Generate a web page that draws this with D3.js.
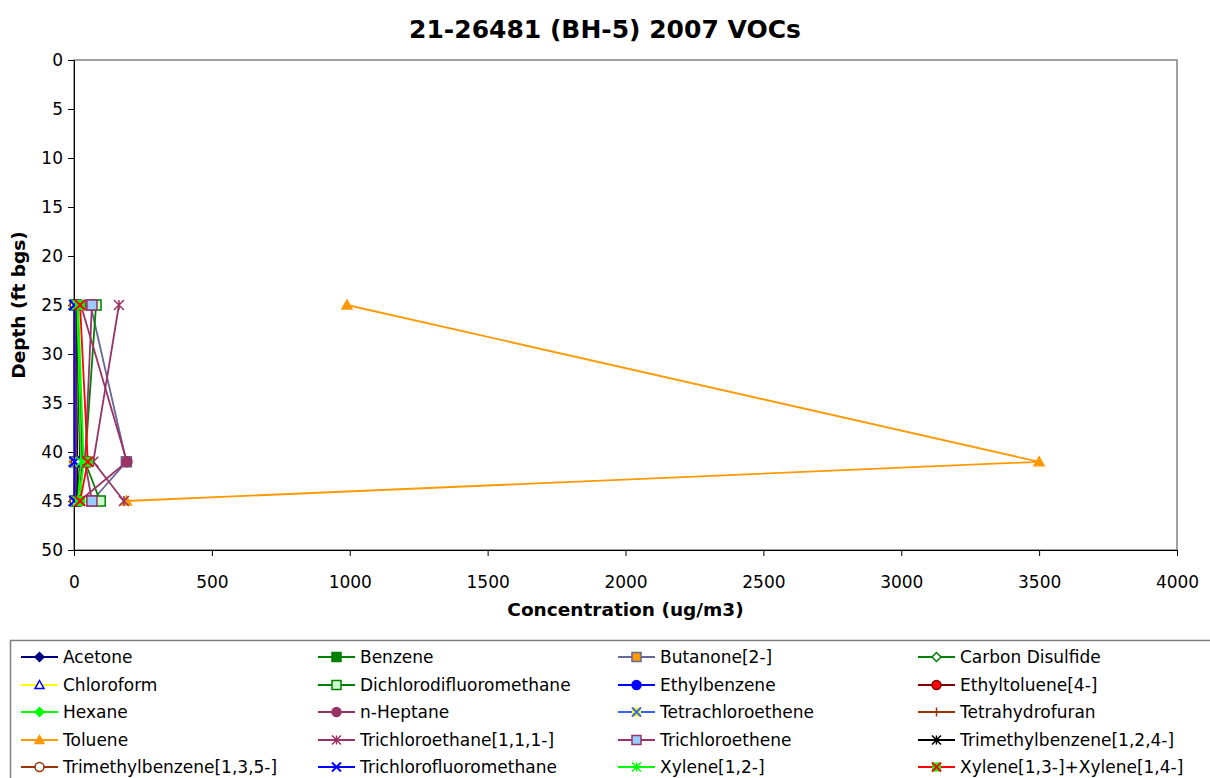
<!DOCTYPE html>
<html>
<head>
<script src="https://cdnjs.cloudflare.com/ajax/libs/d3/7.8.5/d3.min.js"></script>
<style>
body { margin: 0; background: #fff; }
svg text { font-family: 'DejaVu Sans', Verdana, sans-serif; fill: #000; }
</style>
</head>
<body>
<svg id="chart"></svg>
<script>
// sample depths (ft bgs)
const depths = [25, 41, 45];

const seriesNames = [
  'Acetone', 'Benzene', 'Butanone[2-]', 'Carbon Disulfide',
  'Chloroform', 'Dichlorodifluoromethane', 'Ethylbenzene', 'Ethyltoluene[4-]',
  'Hexane', 'n-Heptane', 'Tetrachloroethene', 'Tetrahydrofuran',
  'Toluene', 'Trichloroethane[1,1,1-]', 'Trichloroethene', 'Trimethylbenzene[1,2,4-]',
  'Trimethylbenzene[1,3,5-]', 'Trichlorofluoromethane', 'Xylene[1,2-]', 'Xylene[1,3-]+Xylene[1,4-]'
];

// concentrations (ug/m3) at 25, 41, 45 ft
const acetone = [6, 12, 10];
const benzene = [4, 3, 5];
const butanone = [60, 190, 65];
const carbonDisulfide = [3, 2, 3];
const chloroform = [0.5, 0.5, 0.5];
const dichlorodifluoromethane = [80, 40, 95];
const ethylbenzene = [3, 2, 3];
const ethyltoluene = [10, 30, 12];
const hexane = [15, 35, 20];
const nHeptane = [25, 192, 20];
const tetrachloroethene = [1, 1, 1];
const tetrahydrofuran = [2, 3, 2];
const toluene = [990, 3500, 190];
const trichloroethane = [163, 70, 181];
const trichloroethene = [65, 40, 65];
const tmb124 = [10, 22, 12];
const tmb135 = [4, 8, 4];
const trichlorofluoromethane = [1, 2, 1];
const xylene12 = [12, 25, 14];
const xylene1314 = [22, 50, 22];

const seriesValues = [
  acetone, benzene, butanone, carbonDisulfide,
  chloroform, dichlorodifluoromethane, ethylbenzene, ethyltoluene,
  hexane, nHeptane, tetrachloroethene, tetrahydrofuran,
  toluene, trichloroethane, trichloroethene, tmb124,
  tmb135, trichlorofluoromethane, xylene12, xylene1314
];

const xTicks = [0, 500, 1000, 1500, 2000, 2500, 3000, 3500, 4000];
const yTicks = [0, 5, 10, 15, 20, 25, 30, 35, 40, 45, 50];

// line colour, marker shape, marker fill, marker stroke
const styles = [
  { line: '#000080', shape: 'diamond', fill: '#000080', stroke: '#000080' },
  { line: '#008000', shape: 'square', fill: '#008000', stroke: '#008000' },
  { line: '#666699', shape: 'square', fill: '#ff9900', stroke: '#666699' },
  { line: '#008000', shape: 'diamond', fill: '#ffffff', stroke: '#008000' },
  { line: '#ffff00', shape: 'triangle', fill: '#ffffff', stroke: '#0000ff' },
  { line: '#008000', shape: 'square', fill: '#ccffcc', stroke: '#008000' },
  { line: '#0000ff', shape: 'circle', fill: '#0000ff', stroke: '#0000ff' },
  { line: '#800000', shape: 'circle', fill: '#ff0000', stroke: '#800000' },
  { line: '#00ff00', shape: 'diamond', fill: '#00ff00', stroke: '#00ff00' },
  { line: '#993366', shape: 'circle', fill: '#993366', stroke: '#993366' },
  { line: '#3366ff', shape: 'xsquare', fill: '#ffff00', stroke: '#3366ff' },
  { line: '#993300', shape: 'plus', fill: 'none', stroke: '#993300' },
  { line: '#ff9900', shape: 'triangle', fill: '#ff9900', stroke: '#ff9900' },
  { line: '#993366', shape: 'asterisk', fill: 'none', stroke: '#993366' },
  { line: '#993366', shape: 'square', fill: '#99ccff', stroke: '#993366' },
  { line: '#000000', shape: 'asterisk', fill: 'none', stroke: '#000000' },
  { line: '#993300', shape: 'circle', fill: '#ffffff', stroke: '#993300' },
  { line: '#0000ff', shape: 'x', fill: 'none', stroke: '#0000ff' },
  { line: '#00ff00', shape: 'asterisk', fill: 'none', stroke: '#00ff00' },
  { line: '#ff0000', shape: 'xsquare', fill: '#00ff00', stroke: '#ff0000' }
];

const width = 1210, height = 778;
const plot = { left: 74, top: 60, right: 1177, bottom: 550 };

const svg = d3.select('#chart').attr('width', width).attr('height', height);

const x = d3.scaleLinear().domain([0, 4000]).range([plot.left, plot.right]);
const y = d3.scaleLinear().domain([0, 50]).range([plot.top, plot.bottom]);

// plot area border (top/right grey)
svg.append('rect')
  .attr('x', plot.left).attr('y', plot.top)
  .attr('width', plot.right - plot.left).attr('height', plot.bottom - plot.top)
  .attr('fill', '#fff').attr('stroke', '#808080').attr('stroke-width', 1.5);

// axes
const yAxis = svg.append('g')
  .attr('transform', `translate(${plot.left},0)`)
  .call(d3.axisLeft(y).tickValues(yTicks).tickSize(6).tickSizeOuter(0).tickPadding(5));
const xAxis = svg.append('g')
  .attr('transform', `translate(0,${plot.bottom})`)
  .call(d3.axisBottom(x).tickValues(xTicks).tickFormat(d3.format('d'))
    .tickSize(6).tickSizeOuter(0).tickPadding(20));
[xAxis, yAxis].forEach(a => {
  a.select('.domain').attr('stroke', '#000').attr('stroke-width', 1);
  a.selectAll('.tick line').attr('stroke', '#000');
  a.selectAll('.tick text').style('font-size', '17px').style('font-family', "'DejaVu Sans', sans-serif");
});

// titles
svg.append('text')
  .attr('x', 605).attr('y', 38).attr('text-anchor', 'middle')
  .style('font-size', '25px').style('font-weight', 'bold')
  .text('21-26481 (BH-5) 2007 VOCs');
svg.append('text')
  .attr('x', (plot.left + plot.right) / 2).attr('y', 616).attr('text-anchor', 'middle')
  .style('font-size', '18.5px').style('font-weight', 'bold')
  .text('Concentration (ug/m3)');
svg.append('text')
  .attr('transform', `translate(25,${(plot.top + plot.bottom) / 2}) rotate(-90)`)
  .attr('text-anchor', 'middle')
  .style('font-size', '18.5px').style('font-weight', 'bold')
  .text('Depth (ft bgs)');

function drawMarker(g, st, cx, cy, r) {
  const s = st.shape;
  if (s === 'diamond') {
    g.append('path').attr('d', `M${cx},${cy - r}L${cx + r},${cy}L${cx},${cy + r}L${cx - r},${cy}Z`)
      .attr('fill', st.fill).attr('stroke', st.stroke).attr('stroke-width', 1.5);
  } else if (s === 'square' || s === 'xsquare') {
    g.append('rect').attr('x', cx - r).attr('y', cy - r).attr('width', 2 * r).attr('height', 2 * r)
      .attr('fill', st.fill).attr('stroke', s === 'xsquare' ? 'none' : st.stroke).attr('stroke-width', 1.5);
    if (s === 'xsquare') {
      g.append('path').attr('d', `M${cx - r},${cy - r}L${cx + r},${cy + r}M${cx + r},${cy - r}L${cx - r},${cy + r}`)
        .attr('stroke', st.stroke).attr('stroke-width', 2);
    }
  } else if (s === 'triangle') {
    g.append('path').attr('d', `M${cx},${cy - r}L${cx + r},${cy + r * 0.8}L${cx - r},${cy + r * 0.8}Z`)
      .attr('fill', st.fill).attr('stroke', st.stroke).attr('stroke-width', 1.5);
  } else if (s === 'circle') {
    g.append('circle').attr('cx', cx).attr('cy', cy).attr('r', r)
      .attr('fill', st.fill).attr('stroke', st.stroke).attr('stroke-width', 1.5);
  } else if (s === 'x') {
    g.append('path').attr('d', `M${cx - r},${cy - r}L${cx + r},${cy + r}M${cx + r},${cy - r}L${cx - r},${cy + r}`)
      .attr('stroke', st.stroke).attr('stroke-width', 2);
  } else if (s === 'plus') {
    g.append('path').attr('d', `M${cx - r},${cy}L${cx + r},${cy}M${cx},${cy - r}L${cx},${cy + r}`)
      .attr('stroke', st.stroke).attr('stroke-width', 1.5);
  } else if (s === 'asterisk') {
    g.append('path').attr('d', `M${cx - r},${cy - r}L${cx + r},${cy + r}M${cx + r},${cy - r}L${cx - r},${cy + r}M${cx},${cy - r}L${cx},${cy + r}`)
      .attr('stroke', st.stroke).attr('stroke-width', 1.5);
  }
}

// series
const line = d3.line().x(d => x(d.v)).y(d => y(d.depth));
const seriesG = svg.append('g');
seriesValues.forEach((vals, i) => {
  const st = styles[i];
  const pts = vals.map((v, j) => ({ v, depth: depths[j] }));
  const g = seriesG.append('g');
  g.append('path').datum(pts).attr('d', line)
    .attr('fill', 'none').attr('stroke', st.line).attr('stroke-width', 1.8);
  pts.forEach(p => drawMarker(g, st, x(p.v), y(p.depth), 5));
});

// legend
const legend = svg.append('g');
legend.append('rect')
  .attr('x', 10.5).attr('y', 640.5).attr('width', 1210).attr('height', 200)
  .attr('fill', '#fff').attr('stroke', '#808080').attr('stroke-width', 1.5);
const colX = [21, 318, 618, 918];
const rowY = [657, 685, 712, 740, 767];
seriesNames.forEach((name, i) => {
  const st = styles[i];
  const lx = colX[i % 4], ly = rowY[Math.floor(i / 4)];
  const g = legend.append('g');
  g.append('line').attr('x1', lx).attr('x2', lx + 37).attr('y1', ly).attr('y2', ly)
    .attr('stroke', st.line).attr('stroke-width', 1.8);
  drawMarker(g, st, lx + 18.5, ly, 4.5);
  g.append('text').attr('x', lx + 42).attr('y', ly).attr('dy', '0.36em')
    .style('font-size', '17px').text(name);
});
</script>
</body>
</html>
